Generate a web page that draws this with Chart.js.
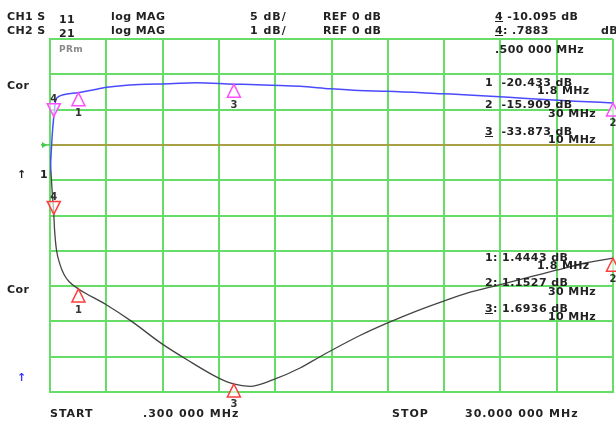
<!DOCTYPE html>
<html>
<head>
<meta charset="utf-8">
<script src="https://cdn.jsdelivr.net/npm/chart.js@4.4.1/dist/chart.umd.min.js"></script>
<style>
html, body { margin: 0; padding: 0; background: #fff; }
#wrap { position: relative; width: 616px; height: 421px; overflow: hidden; }
#chart { position: absolute; left: 0; top: 0; }
.t { position: absolute; font: bold 11px "DejaVu Sans", sans-serif; color: #222; white-space: nowrap; line-height: 12px; letter-spacing: 0.4px; }
.w { letter-spacing: 1px; }
.g { color: #888; font-size: 9px; }
.b { color: #3333ff; }
</style>
</head>
<body>
<div id="wrap">
  <canvas id="chart" width="616" height="421"></canvas>

  <!-- header -->
  <div class="t" style="left:7px;top:11px">CH1 S</div>
  <div class="t" style="left:59px;top:14px">11</div>
  <div class="t" style="left:111px;top:11px">log MAG</div>
  <div class="t w" style="left:250px;top:11px">5 dB/</div>
  <div class="t" style="left:323px;top:11px">REF 0 dB</div>
  <div class="t" style="left:495px;top:11px"><u>4</u> -10.095 dB</div>

  <div class="t" style="left:7px;top:25px">CH2 S</div>
  <div class="t" style="left:59px;top:28px">21</div>
  <div class="t" style="left:111px;top:25px">log MAG</div>
  <div class="t w" style="left:250px;top:25px">1 dB/</div>
  <div class="t" style="left:323px;top:25px">REF 0 dB</div>
  <div class="t" style="left:495px;top:25px"><u>4</u>: .7883</div>
  <div class="t" style="left:601px;top:25px">dB</div>

  <div class="t g" style="left:59px;top:43px">PRm</div>
  <div class="t" style="left:495px;top:44px">.500 000 MHz</div>

  <!-- left side -->
  <div class="t" style="left:7px;top:80px">Cor</div>
  <div class="t" style="left:17px;top:169px">↑</div>
  <div class="t" style="left:40px;top:169px">1</div>
  <div class="t" style="left:7px;top:284px">Cor</div>
  <div class="t b" style="left:17px;top:372px">↑</div>

  <!-- S11 marker readouts -->
  <div class="t" style="left:485px;top:77px">1&nbsp; -20.433 dB</div>
  <div class="t" style="left:537px;top:85px">1.8 MHz</div>
  <div class="t" style="left:485px;top:99px">2&nbsp; -15.909 dB</div>
  <div class="t" style="left:548px;top:108px">30 MHz</div>
  <div class="t" style="left:485px;top:126px"><u>3</u>&nbsp; -33.873 dB</div>
  <div class="t" style="left:548px;top:134px">10 MHz</div>

  <!-- S21 marker readouts -->
  <div class="t" style="left:485px;top:252px">1: 1.4443 dB</div>
  <div class="t" style="left:537px;top:260px">1.8 MHz</div>
  <div class="t" style="left:485px;top:277px">2: 1.1527 dB</div>
  <div class="t" style="left:548px;top:286px">30 MHz</div>
  <div class="t" style="left:485px;top:303px"><u>3</u>: 1.6936 dB</div>
  <div class="t" style="left:548px;top:311px">10 MHz</div>

  <!-- footer -->
  <div class="t w" style="left:50px;top:408px">START</div>
  <div class="t w" style="left:143px;top:408px">.300 000 MHz</div>
  <div class="t w" style="left:392px;top:408px">STOP</div>
  <div class="t w" style="left:465px;top:408px">30.000 000 MHz</div>
</div>

<script>
// S11 trace (CH1, 5 dB/div)
const s11Freq = [0.3, 0.42, 0.5, 0.6, 0.8, 1.0, 1.8, 2.5, 3.3, 5.0, 6.6, 8.0, 10.0, 10.85, 12.0, 13.5, 15.1, 16.6, 18.1, 21.0, 22.6, 24.5, 26.15, 28.0, 30.0];
const s11Db   = [-4.2, 1.5, 4.0, 6.3, 6.9, 7.1, 7.4, 7.75, 8.15, 8.55, 8.65, 8.8, 8.6, 8.55, 8.45, 8.3, 7.95, 7.7, 7.6, 7.25, 7.05, 6.75, 6.45, 6.2, 5.95];

// S21 trace (CH2, 1 dB/div)
const s21Freq = [0.3, 0.4, 0.5, 0.54, 0.64, 0.83, 1.04, 1.3, 1.8, 3.25, 4.61, 6.19, 7.51, 9.18, 9.97, 10.85, 12.08, 13.49, 14.54, 16.65, 18.08, 19.66, 21.03, 22.3, 24.04, 25.78, 27.0, 28.42, 30.0];
const s21Db   = [-0.3, -1.2, -1.97, -2.4, -2.97, -3.39, -3.67, -3.87, -4.08, -4.52, -5.0, -5.63, -6.08, -6.6, -6.77, -6.84, -6.65, -6.32, -6.0, -5.4, -5.05, -4.7, -4.43, -4.2, -3.96, -3.72, -3.55, -3.36, -3.21];

// markers
const markerNames = ['1', '2', '3', '4'];
const markerFreq  = [1.8, 30, 10, 0.5];
const s11MarkerDb = [7.4, 5.95, 8.6, 4.0];
const s21MarkerDb = [-4.08, -3.21, -6.77, -1.97];

const GRID = '#66dd66';
const REFLINE = '#a8a044';

function toPoints(xs, ys) {
  return xs.map((x, i) => ({ x: x, y: ys[i] }));
}

// 画标记三角形
function drawMarkers(ctx, xScale, yScale, values, color) {
  ctx.save();
  ctx.lineWidth = 1.5;
  ctx.strokeStyle = color;
  ctx.font = 'bold 10px "DejaVu Sans", sans-serif';
  ctx.textAlign = 'center';
  ctx.textBaseline = 'middle';
  markerFreq.forEach((f, i) => {
    const px = xScale.getPixelForValue(f);
    const py = yScale.getPixelForValue(values[i]);
    const inverted = markerNames[i] === '4';
    const dir = inverted ? -1 : 1;
    ctx.beginPath();
    ctx.moveTo(px, py);
    ctx.lineTo(px - 6.5, py + dir * 13);
    ctx.lineTo(px + 6.5, py + dir * 13);
    ctx.closePath();
    ctx.fillStyle = 'rgba(255,255,255,0.6)';
    ctx.fill();
    ctx.stroke();
    ctx.fillStyle = '#333';
    ctx.fillText(markerNames[i], px, py + dir * (inverted ? 17 : 21));
  });
  ctx.restore();
}

const markerPlugin = {
  id: 'markers',
  afterDatasetsDraw(chart) {
    const { ctx, scales } = chart;
    drawMarkers(ctx, scales.x, scales.y, s11MarkerDb, '#ff4dff');
    drawMarkers(ctx, scales.x, scales.y2, s21MarkerDb, '#ff3c3c');

    // reference position arrow
    const ry = scales.y.getPixelForValue(0);
    const lx = chart.chartArea.left;
    ctx.save();
    ctx.strokeStyle = '#44cc44';
    ctx.fillStyle = '#44cc44';
    ctx.lineWidth = 1.5;
    ctx.beginPath();
    ctx.moveTo(lx - 9, ry);
    ctx.lineTo(lx, ry);
    ctx.stroke();
    ctx.beginPath();
    ctx.moveTo(lx - 3, ry);
    ctx.lineTo(lx - 8, ry - 3);
    ctx.lineTo(lx - 8, ry + 3);
    ctx.closePath();
    ctx.fill();
    ctx.restore();
  }
};

new Chart(document.getElementById('chart'), {
  type: 'line',
  data: {
    datasets: [
      {
        label: 'S11',
        data: toPoints(s11Freq, s11Db),
        borderColor: '#4a4aff',
        borderWidth: 1.5,
        pointRadius: 0,
        cubicInterpolationMode: 'monotone',
        yAxisID: 'y'
      },
      {
        label: 'S21',
        data: toPoints(s21Freq, s21Db),
        borderColor: '#444444',
        borderWidth: 1.3,
        pointRadius: 0,
        cubicInterpolationMode: 'monotone',
        yAxisID: 'y2'
      }
    ]
  },
  options: {
    responsive: false,
    animation: false,
    layout: { padding: { left: 50, right: 3, top: 39, bottom: 29 } },
    plugins: {
      legend: { display: false },
      tooltip: { enabled: false }
    },
    scales: {
      x: {
        type: 'linear',
        min: 0.3,
        max: 30,
        ticks: { display: false, count: 11 },
        grid: { color: GRID, lineWidth: 2, drawTicks: false },
        border: { color: GRID, width: 2 }
      },
      y: {
        min: -35,
        max: 15,
        ticks: { display: false, stepSize: 5 },
        grid: {
          color: (c) => (c.tick && c.tick.value === 0 ? REFLINE : GRID),
          lineWidth: 2,
          drawTicks: false
        },
        border: { color: GRID, width: 2 }
      },
      y2: {
        display: false,
        min: -7,
        max: 3
      }
    }
  },
  plugins: [markerPlugin]
});
</script>
</body>
</html>
